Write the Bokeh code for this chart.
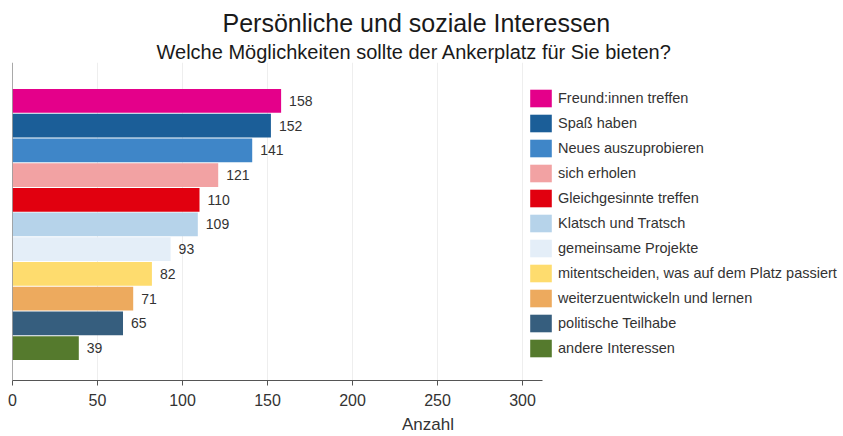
from bokeh.plotting import figure
from bokeh.models import ColumnDataSource, Range1d, Title, Span, FixedTicker
from bokeh.core.properties import value
from bokeh.embed import file_html
from bokeh.resources import INLINE

categories = [
    "Freund:innen treffen",
    "Spaß haben",
    "Neues auszuprobieren",
    "sich erholen",
    "Gleichgesinnte treffen",
    "Klatsch und Tratsch",
    "gemeinsame Projekte",
    "mitentscheiden, was auf dem Platz passiert",
    "weiterzuentwickeln und lernen",
    "politische Teilhabe",
    "andere Interessen",
]
counts = [158, 152, 141, 121, 110, 109, 93, 82, 71, 65, 39]
colors = [
    "#E4008A", "#1B5E98", "#3F86C8", "#F2A2A3", "#E1000F", "#B6D3EA",
    "#E4EEF8", "#FEDC6E", "#EDAA5E", "#365E7E", "#557A2D",
]
x_ticks = [0, 50, 100, 150, 200, 250, 300]
title_text = "Persönliche und soziale Interessen"
subtitle_text = "Welche Möglichkeiten sollte der Ankerplatz für Sie bieten?"
x_label = "Anzahl"

FONT = "Liberation Sans"
n = len(categories)
ypos = [n - i for i in range(n)]

src = ColumnDataSource(dict(
    y=ypos, cnt=counts, cat=categories, col=colors,
    lbl=[str(c) for c in counts],
))

p = figure(
    width=843, height=436,
    x_range=Range1d(0, 488.8), y_range=Range1d(-0.309, 12.551),
    output_backend="svg", toolbar_location=None,
    min_border_left=12, min_border_right=0, min_border_top=62, min_border_bottom=0,
    outline_line_color=None,
)

p.add_layout(Title(text=subtitle_text, text_font=FONT, text_font_size="20px",
                   text_font_style="normal", text_color="#1a1a1a",
                   align="left", offset=144, standoff=0), "above")
p.add_layout(Title(text=title_text, text_font=FONT, text_font_size="25px",
                   text_font_style="normal", text_color="#1a1a1a",
                   align="left", offset=210, standoff=3), "above")

p.hbar(y="y", right="cnt", left=0, height=0.96, fill_color="col",
       line_color=None, source=src, legend_field="cat")

p.text(x="cnt", y="y", text="lbl", source=src, x_offset=8,
       text_align="left", text_baseline="middle",
       text_font=value(FONT), text_font_size="14px", text_color="#333333")

p.add_layout(Span(location=0, dimension="height", line_color="#555555", line_width=1))

p.yaxis.visible = False
p.ygrid.visible = False
p.xgrid.grid_line_color = "#eeeeee"

xa = p.xaxis[0]
xa.ticker = FixedTicker(ticks=x_ticks)
xa.bounds = (0, 312)
xa.axis_label = x_label
xa.axis_label_text_font = FONT
xa.axis_label_text_font_size = "17px"
xa.axis_label_text_font_style = "normal"
xa.axis_label_text_color = "#333333"
xa.axis_label_standoff = 6
xa.major_label_text_font = FONT
xa.major_label_text_font_size = "16px"
xa.major_label_text_color = "#333333"
xa.major_label_standoff = 8
xa.axis_line_color = "#555555"
xa.major_tick_line_color = "#555555"
xa.major_tick_in = 0
xa.major_tick_out = 5
xa.minor_tick_line_color = None

lg = p.legend[0]
lg.location = (515, 21)
lg.margin = 0
lg.padding = 0
lg.spacing = 3
lg.glyph_width = 27
lg.glyph_height = 22
lg.label_height = 22
lg.label_standoff = 4
lg.label_text_font = FONT
lg.label_text_font_size = "14.5px"
lg.label_text_color = "#333333"
lg.border_line_color = None
lg.background_fill_alpha = 0

open("out.html", "w").write(file_html(p, INLINE))
